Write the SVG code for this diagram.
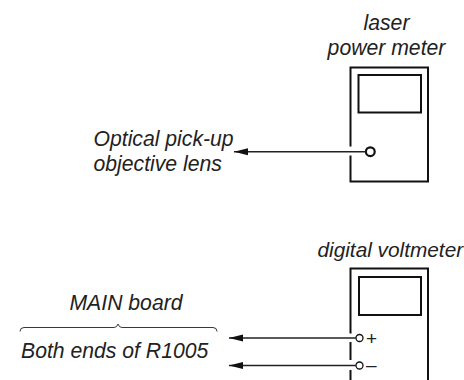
<svg xmlns="http://www.w3.org/2000/svg" width="464" height="380" viewBox="0 0 464 380">
<style>
text{font-family:"Liberation Sans",Arial,sans-serif;font-style:italic;font-size:21.2px;fill:#222}
.box{fill:none;stroke:#111;stroke-width:2}
.wire{fill:none;stroke:#222;stroke-width:1.4}
.term{fill:#fff;stroke:#111}
</style>
<defs><marker id="a" markerUnits="userSpaceOnUse" markerWidth="16" markerHeight="8" refX="14" refY="4" orient="auto" viewBox="0 0 16 8"><path d="M0 0.500V7.500L14 4Z" fill="#111"/></marker></defs>
<rect width="464" height="380" fill="#fff"/>
<g id="laser-power-meter">
<path class="box" d="M350.500 146.500V67.500H428V181.500H350.500V155.500"/>
<rect class="box" x="358.500" y="75" width="62.500" height="37.500"/>
<circle class="term" cx="370.300" cy="151.700" r="4.400" stroke-width="2.200"/>
<text x="386.500" y="30" text-anchor="middle">laser</text>
<text x="386.500" y="54.500" text-anchor="middle">power meter</text>
</g>
<g id="digital-voltmeter">
<path class="box" d="M350.500 333.500V268.500H428V380M350.500 342V360M350.500 370V380"/>
<rect class="box" x="359" y="277" width="62" height="38"/>
<circle class="term" cx="359.500" cy="338" r="3.500" stroke-width="1.300"/>
<circle class="term" cx="359.500" cy="365.500" r="3.500" stroke-width="1.300"/>
<text x="317.500" y="256.500" style="font-size:20.800px">digital voltmeter</text>
<text x="366" y="344.500" style="font-style:normal;font-size:19px">+</text>
<text x="366" y="371" style="font-style:normal;font-size:19px">–</text>
</g>
<g id="optical-pick-up"><text x="93.500" y="146">Optical pick-up</text><text x="93.500" y="170.500">objective lens</text></g>
<g id="main-board">
<text x="126" y="310" text-anchor="middle">MAIN board</text>
<path d="M20 331.500Q20 327.500 24 327.500H114Q117 327.500 118 324Q119 327.500 122 327.500H213Q217 327.500 217 331.500" fill="none" stroke="#222" stroke-width="0.900"/>
<text x="21" y="357.500">Both ends of R1005</text>
</g>
<g id="connectors">
<path class="wire" d="M366 151.700H234" marker-end="url(#a)"/>
<path class="wire" d="M356 338H229" marker-end="url(#a)"/>
<path class="wire" d="M356 365.500H229" marker-end="url(#a)"/>
</g>
</svg>
